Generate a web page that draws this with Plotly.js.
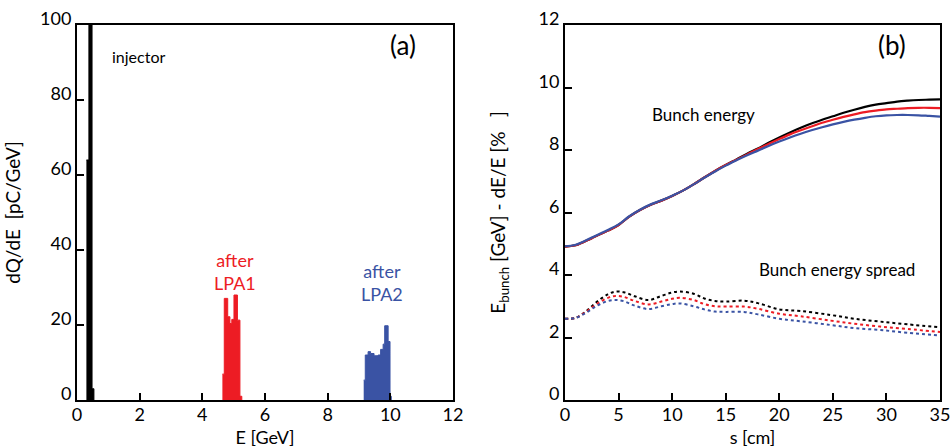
<!DOCTYPE html>
<html>
<head>
<meta charset="utf-8">
<script src="https://cdn.plot.ly/plotly-3.0.1.min.js"></script>
<style>html,body{margin:0;padding:0;background:#fff;}#chart{width:950px;height:448px;}</style>
</head>
<body>
<div id="chart"></div>
<script>
// ---- Panel (a): energy spectra (step histograms; left bin edges and dQ/dE) ----
const injE = [0.30, 0.38, 0.48, 0.54];
const injQ = [64, 160, 3, 0];
const lpa1E = [4.64, 4.70, 4.81, 4.88, 4.94, 5.01, 5.12, 5.20, 5.26];
const lpa1Q = [6.9, 27.1, 22.2, 20.4, 21.5, 28.0, 21.3, 1.0, 0];
const lpa2E = [9.15, 9.20, 9.29, 9.37, 9.48, 9.61, 9.69, 9.77, 9.82, 9.93, 9.99, 10.03];
const lpa2Q = [5.3, 12.0, 12.9, 12.4, 11.8, 12.0, 13.5, 14.9, 19.8, 15.6, 1.0, 0];

// ---- Panel (b): bunch energy and energy spread vs s ----
const sE = [0, 1, 2.5, 4, 5, 6, 7, 8, 9, 10, 11, 12, 13, 14, 15, 16, 17, 18, 19, 20, 21, 22, 23, 24, 25, 26, 27, 28, 29, 30, 31, 32, 33, 34, 35];
const energyBlack = [4.91, 4.95, 5.18, 5.42, 5.6, 5.87, 6.08, 6.25, 6.38, 6.53, 6.7, 6.9, 7.12, 7.33, 7.52, 7.7, 7.88, 8.05, 8.23, 8.4, 8.56, 8.71, 8.85, 8.97, 9.08, 9.19, 9.29, 9.38, 9.45, 9.5, 9.55, 9.58, 9.6, 9.61, 9.62];
const energyRed   = [4.91, 4.95, 5.18, 5.42, 5.6, 5.87, 6.08, 6.25, 6.38, 6.53, 6.7, 6.9, 7.12, 7.33, 7.52, 7.69, 7.86, 8.03, 8.19, 8.35, 8.5, 8.63, 8.75, 8.87, 8.97, 9.06, 9.14, 9.21, 9.26, 9.3, 9.32, 9.34, 9.35, 9.35, 9.34];
const energyBlue  = [4.92, 4.97, 5.2, 5.44, 5.62, 5.88, 6.09, 6.26, 6.39, 6.54, 6.7, 6.9, 7.11, 7.31, 7.5, 7.67, 7.83, 7.98, 8.13, 8.27, 8.4, 8.52, 8.63, 8.73, 8.82, 8.9, 8.97, 9.03, 9.08, 9.11, 9.12, 9.12, 9.11, 9.09, 9.07];

const sS = [0, 1, 2, 3, 4, 4.7, 5.5, 6.5, 7.8, 9, 10, 10.75, 12, 13, 14, 15, 16.7, 18, 20, 22, 24.8, 27, 29.4, 32, 35];
const spreadBlack = [2.6, 2.63, 2.85, 3.15, 3.38, 3.47, 3.45, 3.32, 3.2, 3.33, 3.44, 3.47, 3.4, 3.25, 3.17, 3.15, 3.18, 3.1, 2.9, 2.85, 2.72, 2.6, 2.51, 2.42, 2.33];
const spreadRed   = [2.6, 2.63, 2.83, 3.08, 3.27, 3.33, 3.3, 3.17, 3.06, 3.15, 3.24, 3.27, 3.2, 3.07, 3.0, 2.99, 2.99, 2.92, 2.76, 2.68, 2.54, 2.44, 2.35, 2.27, 2.18];
const spreadBlue  = [2.6, 2.63, 2.8, 3.02, 3.17, 3.2, 3.16, 3.02, 2.91, 3.0, 3.07, 3.09, 3.0, 2.9, 2.83, 2.82, 2.82, 2.74, 2.6, 2.52, 2.4, 2.3, 2.24, 2.15, 2.06];

const BLACK = '#000000', RED = '#ed1c24', BLUE = '#3a53a4';
const FONT = 'Lato, "Open Sans", sans-serif';

function stepTrace(x, y, color, xa, ya) {
  return {x: x, y: y, type: 'scatter', mode: 'lines', line: {shape: 'hv', color: color, width: 1},
          fill: 'tozeroy', fillcolor: color, xaxis: xa, yaxis: ya, hoverinfo: 'skip', showlegend: false};
}
function lineTrace(x, y, color, dash) {
  return {x: x, y: y, type: 'scatter', mode: 'lines', line: {shape: 'spline', color: color, width: dash ? 2 : 2.2, dash: dash || 'solid'},
          xaxis: 'x2', yaxis: 'y2', showlegend: false};
}

const data = [
  stepTrace(injE, injQ, BLACK, 'x', 'y'),
  stepTrace(lpa1E, lpa1Q, RED, 'x', 'y'),
  stepTrace(lpa2E, lpa2Q, BLUE, 'x', 'y'),
  lineTrace(sE, energyBlack, BLACK), lineTrace(sE, energyRed, RED), lineTrace(sE, energyBlue, BLUE),
  lineTrace(sS, spreadBlack, BLACK, 'dot'), lineTrace(sS, spreadRed, RED, 'dot'), lineTrace(sS, spreadBlue, BLUE, 'dot')
];

const axisCommon = {
  showline: true, mirror: true, linecolor: '#000', linewidth: 2, showgrid: false, zeroline: false,
  ticks: 'inside', ticklen: 7, tickwidth: 2, tickcolor: '#000', ticklabeloverflow: 'allow',
  tickfont: {family: FONT, size: 18, color: '#000'}
};
const yDomain = [48/448, 423/448];

const layout = {
  width: 950, height: 448,
  margin: {l: 0, r: 0, t: 0, b: 0},
  paper_bgcolor: '#fff', plot_bgcolor: '#fff',
  font: {family: FONT, color: '#000'},
  showlegend: false,
  xaxis: Object.assign({}, axisCommon, {domain: [77/950, 453/950], range: [0, 12], dtick: 2, tick0: 0, ticklabelstandoff: -3,
    title: {text: 'E [GeV]', font: {family: FONT, size: 18, color: '#000'}, standoff: 16}}),
  yaxis: Object.assign({}, axisCommon, {domain: yDomain, range: [0, 100], dtick: 20, tick0: 0, ticklabelshift: -6,
    title: {text: 'dQ/dE\u00a0\u00a0[pC/GeV]', font: {family: FONT, size: 19, color: '#000'}, standoff: 14}}),
  xaxis2: Object.assign({}, axisCommon, {domain: [565/950, 940/950], range: [0, 35], dtick: 5, tick0: 0, anchor: 'y2', ticklabelstandoff: -3,
    title: {text: 's [cm]', font: {family: FONT, size: 18, color: '#000'}, standoff: 16}}),
  yaxis2: Object.assign({}, axisCommon, {domain: yDomain, range: [0, 12], dtick: 2, tick0: 0, anchor: 'x2', ticklabelshift: -6,
    title: {text: 'E<sub>bunch</sub> [GeV] - dE/E [%\u00a0\u00a0\u00a0]', font: {family: FONT, size: 19, color: '#000'}, standoff: 28}}),
  annotations: [
    {xref: 'x', yref: 'y', x: 1.95, y: 91.5, text: 'injector', showarrow: false, font: {family: FONT, size: 16, color: BLACK}},
    {xref: 'x', yref: 'y', x: 10.4, y: 94.7, text: '(a)', showarrow: false, font: {family: FONT, size: 26, color: BLACK}},
    {xref: 'x', yref: 'y', x: 5.04, y: 34.3, text: 'after<br>LPA1', showarrow: false, font: {family: FONT, size: 18, color: RED}},
    {xref: 'x', yref: 'y', x: 9.73, y: 31.3, text: 'after<br>LPA2', showarrow: false, font: {family: FONT, size: 18, color: BLUE}},
    {xref: 'x2', yref: 'y2', x: 30.5, y: 11.36, text: '(b)', showarrow: false, font: {family: FONT, size: 26, color: BLACK}},
    {xref: 'x2', yref: 'y2', x: 12.9, y: 9.15, text: 'Bunch energy', showarrow: false, font: {family: FONT, size: 17, color: BLACK}},
    {xref: 'x2', yref: 'y2', x: 25.4, y: 4.19, text: 'Bunch energy spread', showarrow: false, font: {family: FONT, size: 17, color: BLACK}}
  ]
};

Plotly.newPlot('chart', data, layout, {staticPlot: true, displayModeBar: false});
</script>
</body>
</html>
